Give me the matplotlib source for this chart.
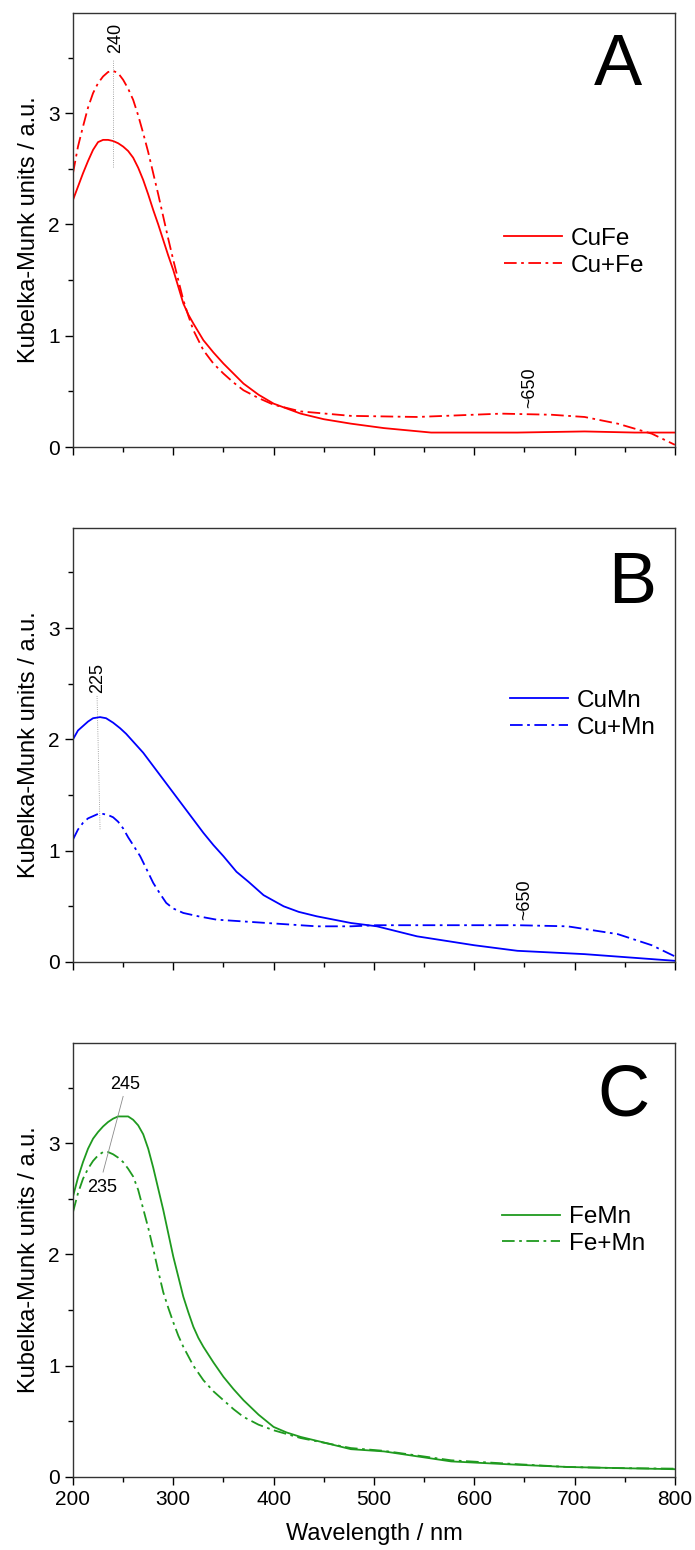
import numpy as np
import matplotlib
matplotlib.use("Agg")
import matplotlib.pyplot as plt
from matplotlib.ticker import MultipleLocator

plt.rcParams['font.family'] = ['Liberation Sans', 'DejaVu Sans']

# Panel A: CuFe / Cu+Fe
wl_cufe = [200, 205, 210, 215, 220, 225, 230, 235, 240, 245, 250, 255, 260, 265, 270, 275,
           280, 285, 290, 295, 300, 305, 310, 315, 320, 330, 340, 350, 360, 370, 385, 400,
           427, 450, 477, 510, 557, 643, 710, 760, 800]
km_cufe = [2.22, 2.34, 2.46, 2.57, 2.67, 2.74, 2.76, 2.76, 2.75, 2.73, 2.70, 2.66, 2.60, 2.51,
           2.40, 2.27, 2.13, 2.00, 1.86, 1.72, 1.59, 1.44, 1.29, 1.19, 1.11, 0.96, 0.85, 0.75,
           0.66, 0.57, 0.47, 0.39, 0.30, 0.25, 0.21, 0.17, 0.13, 0.13, 0.14, 0.13, 0.13]
wl_cu_fe = [200, 205, 210, 215, 220, 225, 230, 235, 240, 245, 250, 255, 260, 265, 270, 275,
            280, 285, 290, 295, 300, 305, 310, 315, 320, 330, 340, 350, 360, 370, 385, 400,
            427, 477, 543, 627, 677, 710, 743, 777, 800]
km_cu_fe = [2.46, 2.70, 2.88, 3.05, 3.18, 3.27, 3.33, 3.37, 3.38, 3.36, 3.30, 3.22, 3.12, 2.98,
            2.82, 2.65, 2.46, 2.27, 2.07, 1.87, 1.68, 1.50, 1.32, 1.18, 1.05, 0.87, 0.75, 0.66,
            0.58, 0.51, 0.44, 0.38, 0.32, 0.28, 0.27, 0.30, 0.29, 0.27, 0.21, 0.12, 0.02]

# Panel B: CuMn / Cu+Mn
wl_cumn = [200, 205, 210, 215, 220, 227, 233, 240, 247, 253, 260, 270, 280, 290, 300, 310,
           320, 330, 340, 350, 363, 375, 380, 390, 400, 410, 425, 443, 460, 477, 503, 543,
           600, 643, 710, 800]
km_cumn = [2.00, 2.08, 2.12, 2.16, 2.19, 2.20, 2.19, 2.15, 2.10, 2.05, 1.98, 1.88, 1.76, 1.64,
           1.52, 1.40, 1.28, 1.16, 1.05, 0.95, 0.81, 0.72, 0.68, 0.60, 0.55, 0.50, 0.45, 0.41,
           0.38, 0.35, 0.32, 0.23, 0.15, 0.10, 0.07, 0.01]
wl_cu_mn = [200, 205, 210, 215, 220, 225, 230, 235, 240, 245, 250, 255, 260, 267, 273, 280,
            287, 293, 300, 310, 325, 343, 393, 443, 477, 503, 577, 643, 693, 743, 777, 800]
km_cu_mn = [1.10, 1.19, 1.25, 1.29, 1.31, 1.33, 1.33, 1.32, 1.30, 1.26, 1.20, 1.12, 1.05, 0.95,
            0.84, 0.71, 0.61, 0.53, 0.48, 0.44, 0.41, 0.38, 0.35, 0.32, 0.32, 0.33, 0.33, 0.33,
            0.32, 0.25, 0.15, 0.05]

# Panel C: FeMn / Fe+Mn
wl_femn = [200, 205, 210, 215, 220, 225, 230, 235, 240, 245, 250, 255, 260, 265, 270, 275,
           280, 285, 290, 295, 300, 305, 310, 315, 320, 325, 330, 340, 350, 360, 370, 385,
           400, 413, 427, 450, 477, 510, 577, 643, 693, 743, 800]
km_femn = [2.52, 2.69, 2.83, 2.95, 3.04, 3.10, 3.15, 3.19, 3.22, 3.24, 3.24, 3.24, 3.21, 3.16,
           3.08, 2.95, 2.78, 2.59, 2.40, 2.19, 1.98, 1.80, 1.62, 1.48, 1.35, 1.25, 1.17, 1.03,
           0.90, 0.79, 0.69, 0.56, 0.45, 0.40, 0.36, 0.31, 0.25, 0.23, 0.14, 0.11, 0.09, 0.08,
           0.07]
wl_fe_mn = [200, 205, 210, 215, 220, 225, 230, 235, 240, 245, 250, 255, 260, 265, 270, 275,
            280, 285, 290, 295, 300, 305, 310, 320, 330, 340, 350, 360, 370, 385, 400, 427,
            477, 510, 577, 643, 693, 743, 800]
km_fe_mn = [2.38, 2.55, 2.68, 2.77, 2.84, 2.89, 2.92, 2.92, 2.90, 2.87, 2.83, 2.77, 2.70, 2.58,
            2.41, 2.24, 2.05, 1.85, 1.66, 1.52, 1.39, 1.27, 1.17, 1.00, 0.87, 0.77, 0.69, 0.61,
            0.54, 0.47, 0.42, 0.35, 0.26, 0.235, 0.15, 0.115, 0.09, 0.08, 0.075]

panels = [
    ("A", "#ff0000", ("CuFe", wl_cufe, km_cufe), ("Cu+Fe", wl_cu_fe, km_cu_fe), (0.716, 0.449)),
    ("B", "#0000ff", ("CuMn", wl_cumn, km_cumn), ("Cu+Mn", wl_cu_mn, km_cu_mn), (0.726, 0.571)),
    ("C", "#1f9a1f", ("FeMn", wl_femn, km_femn), ("Fe+Mn", wl_fe_mn, km_fe_mn), (0.713, 0.568)),
]
letter_pos = [(0.905, 0.876), (0.929, 0.869), (0.914, 0.875)]
bottoms = [0.7116, 0.3794, 0.0471]

dashdot = (0, (7, 2.5, 1.5, 2.5))
ann_color = "#8a8a8a"

fig = plt.figure(figsize=(6.95, 15.5), dpi=100)
axes = []
for i, (letter, color, s1, s2, legpos) in enumerate(panels):
    ax = fig.add_axes([0.105, bottoms[i], 0.866, 0.280])
    axes.append(ax)
    ax.plot(s1[1], s1[2], color=color, lw=1.3, label=s1[0])
    ax.plot(s2[1], s2[2], color=color, lw=1.3, ls=dashdot, label=s2[0])
    ax.set_xlim(200, 800)
    ax.set_ylim(0, 3.9)
    ax.xaxis.set_major_locator(MultipleLocator(100))
    ax.xaxis.set_minor_locator(MultipleLocator(50))
    ax.yaxis.set_major_locator(MultipleLocator(1))
    ax.yaxis.set_minor_locator(MultipleLocator(0.5))
    ax.tick_params(which='major', direction='out', length=6, width=1, labelsize=15, colors='black')
    ax.tick_params(which='minor', direction='out', length=3.5, width=1)
    for sp in ax.spines.values():
        sp.set_linewidth(1.0)
        sp.set_color('#333333')
    ax.set_ylabel("Kubelka-Munk units / a.u.", fontsize=17, labelpad=6)
    if i < 2:
        ax.tick_params(axis='x', labelbottom=False)
    leg = ax.legend(loc='center left', bbox_to_anchor=legpos, frameon=False, fontsize=17.5,
                    handlelength=2.4, handletextpad=0.35, labelspacing=0.2,
                    borderpad=0, borderaxespad=0)
    ax.text(letter_pos[i][0], letter_pos[i][1], letter, transform=ax.transAxes,
            fontsize=52, ha='center', va='center')

axes[2].set_xlabel("Wavelength / nm", fontsize=17, labelpad=10)

# peak annotations
ax = axes[0]
ax.plot([240, 240], [2.52, 3.49], color=ann_color, lw=0.6, ls=':')
ax.text(243, 3.54, "240", rotation=90, ha='center', va='bottom', fontsize=13)
ax.text(655, 0.35, "~650", rotation=90, ha='center', va='bottom', fontsize=13)

ax = axes[1]
ax.plot([224, 227], [2.39, 1.19], color=ann_color, lw=0.6, ls=':')
ax.text(225, 2.42, "225", rotation=90, ha='center', va='bottom', fontsize=13)
ax.text(650, 0.38, "~650", rotation=90, ha='center', va='bottom', fontsize=13)

ax = axes[2]
ax.plot([250, 230], [3.42, 2.74], color=ann_color, lw=0.6, ls='-')
ax.text(252, 3.53, "245", ha='center', va='center', fontsize=13)
ax.text(229, 2.60, "235", ha='center', va='center', fontsize=13)

fig.savefig("out.png", dpi=100)
